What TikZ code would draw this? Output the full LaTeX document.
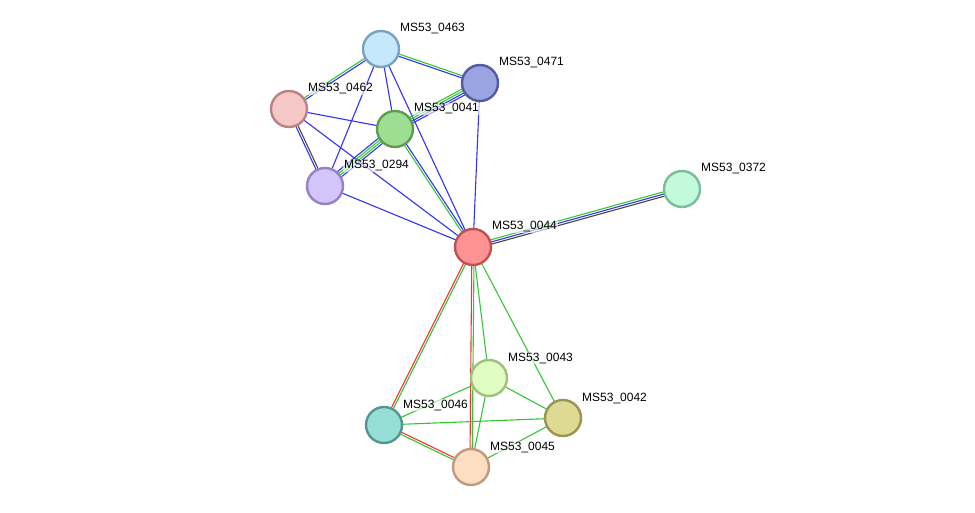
\documentclass[tikz,border=0pt]{standalone}
\usepackage{fontspec}
\setmainfont{Liberation Sans}
\usetikzlibrary{calc}
\definecolor{eg}{RGB}{51,200,51}
\definecolor{eb}{RGB}{51,51,245}
\definecolor{er}{RGB}{245,51,51}
\definecolor{ek}{RGB}{70,70,70}
\newcommand\pedge[3]{%
  \foreach \c/\o in {#3} {
    \draw[\c, line width=1.1pt] ($(#1)!\o pt!90:(#2)$) -- ($(#2)!\o pt!-90:(#1)$);
  }}
\tikzset{
  prot/.style={circle, minimum size=36pt, inner sep=0pt, line width=2.4pt},
  lbl/.style={anchor=base west, font=\fontsize{12}{14}\selectfont, fill=white, fill opacity=0.6, text opacity=1, inner sep=1pt},
}
\begin{document}
\begin{tikzpicture}[x=1pt,y=-1pt]
\useasboundingbox (0,0) rectangle (975,513);
% centers
\coordinate (c463) at (381,49);
\coordinate (c471) at (480,83);
\coordinate (c462) at (289,109);
\coordinate (c041) at (395,129);
\coordinate (c294) at (325,186);
\coordinate (c372) at (682,189);
\coordinate (c044) at (473,247);
\coordinate (c043) at (489,378);
\coordinate (c042) at (563,418);
\coordinate (c046) at (384,425);
\coordinate (c045) at (471,467);
% edges
\pedge{c463}{c471}{eb/-1.1, eg/1.1}
\pedge{c463}{c462}{eg/-1.1, eb/1.1}
\pedge{c463}{c041}{eb/0}
\pedge{c463}{c294}{eb/0}
\pedge{c463}{c044}{eb/0}
\pedge{c471}{c041}{eg/-3.3, eg/-1.1, eb/1.1, eb/3.3}
\pedge{c471}{c044}{eb/0}
\pedge{c462}{c041}{eb/0}
\pedge{c462}{c294}{eb/-1.1, ek/1.1}
\pedge{c462}{c044}{eb/0}
\pedge{c041}{c294}{eb/-3.3, eg/-1.1, eg/1.1, eb/3.3}
\pedge{c041}{c044}{eg/-1.1, eb/1.1}
\pedge{c294}{c044}{eb/0}
\pedge{c044}{c372}{ek/-2.2, eb/0, eg/2.2}
\pedge{c044}{c046}{er/-1.1, eg/1.1}
\pedge{c044}{c045}{er/-1.1, eg/1.1}
\pedge{c044}{c043}{eg/0}
\pedge{c044}{c042}{eg/0}
\pedge{c043}{c046}{eg/0}
\pedge{c043}{c042}{eg/0}
\pedge{c043}{c045}{eg/0}
\pedge{c046}{c042}{eg/0}
\pedge{c046}{c045}{eg/-1.1, er/1.1}
\pedge{c042}{c045}{eg/0}
% nodes
\node[prot, fill={rgb,255:red,197;green,232;blue,252}, draw={rgb,255:red,122;green,162;blue,192}] (n463) at (c463) {};
\node[prot, fill={rgb,255:red,155;green,163;blue,224}, draw={rgb,255:red,82;green,92;blue,160}] (n471) at (c471) {};
\node[prot, fill={rgb,255:red,246;green,199;blue,199}, draw={rgb,255:red,186;green,130;blue,130}] (n462) at (c462) {};
\node[prot, fill={rgb,255:red,158;green,222;blue,146}, draw={rgb,255:red,96;green,155;blue,86}] (n041) at (c041) {};
\node[prot, fill={rgb,255:red,211;green,196;blue,252}, draw={rgb,255:red,150;green,130;blue,192}] (n294) at (c294) {};
\node[prot, fill={rgb,255:red,196;green,250;blue,220}, draw={rgb,255:red,122;green,190;blue,152}] (n372) at (c372) {};
\node[prot, fill={rgb,255:red,255;green,147;blue,147}, draw={rgb,255:red,190;green,82;blue,82}] (n044) at (c044) {};
\node[prot, fill={rgb,255:red,224;green,253;blue,196}, draw={rgb,255:red,162;green,190;blue,130}] (n043) at (c043) {};
\node[prot, fill={rgb,255:red,222;green,218;blue,148}, draw={rgb,255:red,150;green,150;blue,82}] (n042) at (c042) {};
\node[prot, fill={rgb,255:red,151;green,223;blue,214}, draw={rgb,255:red,82;green,150;blue,145}] (n046) at (c046) {};
\node[prot, fill={rgb,255:red,253;green,222;blue,192}, draw={rgb,255:red,190;green,155;blue,125}] (n045) at (c045) {};
% labels
\node[lbl] (l463) at ($(c463)+(18,-17)$) {MS53\_0463};
\node[lbl] (l471) at ($(c471)+(18,-17)$) {MS53\_0471};
\node[lbl] (l462) at ($(c462)+(18,-17)$) {MS53\_0462};
\node[lbl] (l041) at ($(c041)+(18,-17)$) {MS53\_0041};
\node[lbl] (l294) at ($(c294)+(18,-17)$) {MS53\_0294};
\node[lbl] (l372) at ($(c372)+(18,-17)$) {MS53\_0372};
\node[lbl] (l044) at ($(c044)+(18,-17)$) {MS53\_0044};
\node[lbl] (l043) at ($(c043)+(18,-17)$) {MS53\_0043};
\node[lbl] (l042) at ($(c042)+(18,-17)$) {MS53\_0042};
\node[lbl] (l046) at ($(c046)+(18,-17)$) {MS53\_0046};
\node[lbl] (l045) at ($(c045)+(18,-17)$) {MS53\_0045};
\end{tikzpicture}
\end{document}
